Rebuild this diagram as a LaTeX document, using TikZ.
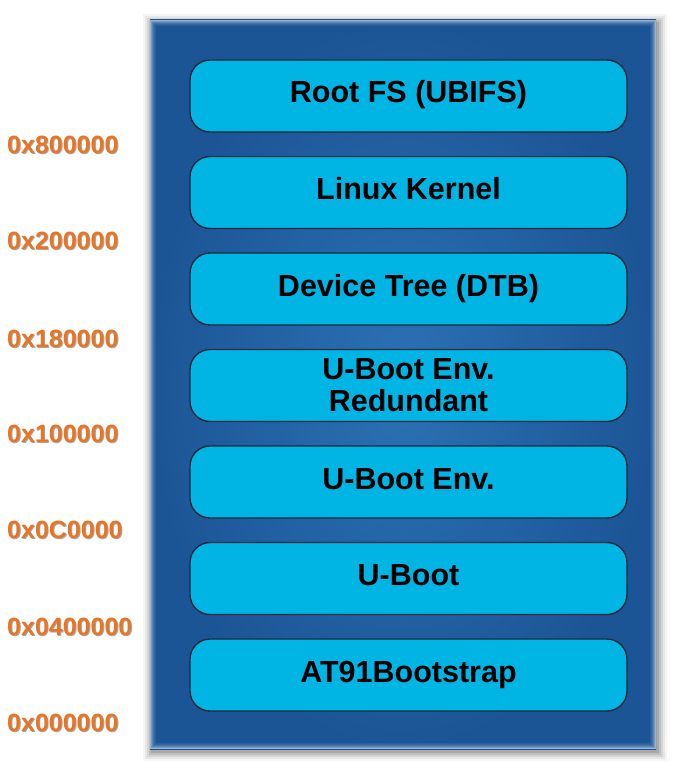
\documentclass[tikz,border=0pt]{standalone}
\usepackage{fontspec}
\setmainfont{Liberation Sans}
\usepackage{tikz}
\usetikzlibrary{positioning,calc}
\definecolor{panelout}{HTML}{1C5596}
\definecolor{panelin}{HTML}{2B72B4}
\definecolor{boxfill}{HTML}{00B4E4}
\definecolor{boxline}{HTML}{1B2A3A}
\definecolor{addr}{HTML}{EA7424}

\begin{document}
\begin{tikzpicture}[x=1pt,y=-1pt,
    part/.style={draw=boxline,line width=1.4pt,fill=boxfill,rounded corners=20pt,
        outer sep=0pt,minimum width=437pt,minimum height=72pt,align=center,
        font=\fontsize{30.5}{32}\selectfont\bfseries},
    oneline/.style={text height=22pt,text depth=8pt},
    addrlabel/.style={anchor=west,inner sep=0pt,text=addr,
        font=\fontsize{25}{28}\selectfont\bfseries}]
    \useasboundingbox (0,0) rectangle (672,762);
    % Panel shadow
    \foreach \s/\o in {9/0.04, 7/0.06, 5/0.08, 3/0.10, 1/0.12} {
        \fill[black,opacity=\o] (150-\s+2,20-\s+3) rectangle (656+\s+2,749+\s+3);
    }
    % Panel
    \shade[outer color=panelout,inner color=panelin] (150,20) rectangle (656,749);
    % Panel inner glow
    \foreach \i/\o in {0.5/0.55, 1.5/0.4, 2.5/0.28, 3.5/0.18, 4.5/0.11, 5.5/0.06} {
        \draw[white,opacity=\o,line width=1pt] (150+\i,20+\i) rectangle (656-\i,749-\i);
    }
    % Partitions
    \node[part,oneline] (rootfs) at (408.5,96) {Root FS (UBIFS)};
    \node[part,oneline,below=24.5pt of rootfs] (kernel) {Linux Kernel};
    \node[part,oneline,below=24.5pt of kernel] (dtb) {Device Tree (DTB)};
    \node[part,below=24.5pt of dtb] (envred) {U-Boot Env.\\Redundant};
    \node[part,oneline,below=24.5pt of envred] (env) {U-Boot Env.};
    \node[part,oneline,below=24.5pt of env] (uboot) {U-Boot};
    \node[part,oneline,below=24.5pt of uboot] (bootstrap) {AT91Bootstrap};
    % Addresses
    \foreach \y/\a in {145/0x800000, 241/0x200000, 339/0x180000, 434/0x100000,
                       530/0x0C0000, 627/0x0400000, 723/0x000000} {
        \node[addrlabel,text=gray!70] at (8,\y+1.2) {\a};
        \node[addrlabel] (a\y) at (7,\y) {\a};
    }
\end{tikzpicture}
\end{document}
